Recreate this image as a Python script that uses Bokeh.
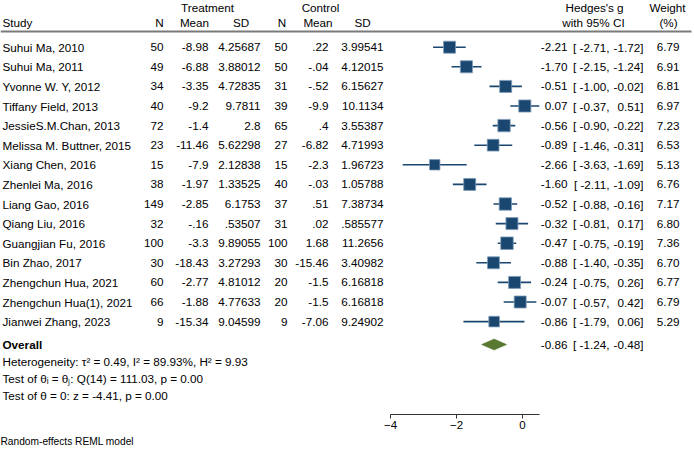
from bokeh.plotting import figure
from bokeh.models import Range1d, FixedTicker, Title, ColumnDataSource
from bokeh.core.properties import value
from bokeh.embed import file_html
from bokeh.resources import INLINE

# ---------------- data ----------------
studies = ["Suhui Ma, 2010", "Suhui Ma, 2011", "Yvonne W. Y, 2012", "Tiffany Field, 2013",
           "JessieS.M.Chan, 2013", "Melissa M. Buttner, 2015", "Xiang Chen, 2016",
           "Zhenlei Ma, 2016", "Liang Gao, 2016", "Qiang Liu, 2016", "Guangjian Fu, 2016",
           "Bin Zhao, 2017", "Zhengchun Hua, 2021", "Zhengchun Hua(1), 2021", "Jianwei Zhang, 2023"]
t_n = ["50", "49", "34", "40", "72", "23", "15", "38", "149", "32", "100", "30", "60", "66", "9"]
t_mean = ["-8.98", "-6.88", "-3.35", "-9.2", "-1.4", "-11.46", "-7.9", "-1.97", "-2.85", "-.16",
          "-3.3", "-18.43", "-2.77", "-1.88", "-15.34"]
t_sd = ["4.25687", "3.88012", "4.72835", "9.7811", "2.8", "5.62298", "2.12838", "1.33525",
        "6.1753", ".53507", "9.89055", "3.27293", "4.81012", "4.77633", "9.04599"]
c_n = ["50", "50", "31", "39", "65", "27", "15", "40", "37", "31", "100", "30", "20", "20", "9"]
c_mean = [".22", "-.04", "-.52", "-9.9", ".4", "-6.82", "-2.3", "-.03", ".51", ".02", "1.68",
          "-15.46", "-1.5", "-1.5", "-7.06"]
c_sd = ["3.99541", "4.12015", "6.15627", "10.1134", "3.55387", "4.71993", "1.96723", "1.05788",
        "7.38734", ".585577", "11.2656", "3.40982", "6.16818", "6.16818", "9.24902"]
g = [-2.21, -1.70, -0.51, 0.07, -0.56, -0.89, -2.66, -1.60, -0.52, -0.32, -0.47, -0.88, -0.24, -0.07, -0.86]
g_lo = [-2.71, -2.15, -1.00, -0.37, -0.90, -1.46, -3.63, -2.11, -0.88, -0.81, -0.75, -1.40, -0.75, -0.57, -1.79]
g_hi = [-1.72, -1.24, -0.02, 0.51, -0.22, -0.31, -1.69, -1.09, -0.16, 0.17, -0.19, -0.35, 0.26, 0.42, 0.06]
weight = [6.79, 6.91, 6.81, 6.97, 7.23, 6.53, 5.13, 6.76, 7.17, 6.80, 7.36, 6.70, 6.77, 6.79, 5.29]
overall_g, overall_lo, overall_hi = -0.86, -1.24, -0.48
stats_lines = ["Heterogeneity: \u03c4\u00b2 = 0.49, I\u00b2 = 89.93%, H\u00b2 = 9.93",
               "Test of \u03b8\u1d62 = \u03b8\u2c7c: Q(14) = 111.03, p = 0.00",
               "Test of \u03b8 = 0: z = -4.41, p = 0.00"]
x_ticks = [-4, -2, 0]
footer = "Random-effects REML model"

# ---------------- layout helpers ----------------
W, H = 694, 450
ZERO_PX, UNIT_PX = 522.0, 33.0      # pixel position of 0 and pixels per unit
ROW0_PX, ROW_PX = 46.7, 19.6       # first row centre and row pitch
FRAME_BOTTOM = 414


def X(px):
    return (px - ZERO_PX) / UNIT_PX


def Y(py):
    return (py - ROW0_PX) / ROW_PX


FONT = value("Liberation Sans")
FS = "11.7px"
TXT = "#000000"
NAVY = "#1a476f"
GREEN = "#58792f"

p = figure(width=W, height=H, output_backend="svg", toolbar_location=None,
           x_range=Range1d(X(0), X(W)), y_range=Range1d(Y(FRAME_BOTTOM), Y(0)),
           y_axis_location=None, min_border_left=0, min_border_right=0,
           min_border_top=0, min_border_bottom=H - FRAME_BOTTOM)
p.grid.visible = False
p.outline_line_color = None
p.background_fill_color = "white"
p.border_fill_color = "white"

rows = list(range(len(studies)))
src = ColumnDataSource(dict(
    y=rows, study=studies, tn=t_n, tm=t_mean, tsd=t_sd, cn=c_n, cm=c_mean, csd=c_sd,
    g=g, lo=g_lo, hi=g_hi, w=weight,
    size=[4.6 * (v ** 0.5) for v in weight],
    est_txt=[f"{v:.2f}" for v in g],
    lo_txt=[f"[ {v:.2f}," for v in g_lo],
    hi_txt=[f"{v:.2f}]" for v in g_hi],
    w_txt=[f"{v:.2f}" for v in weight],
))


def col_text(field, px, align):
    p.text(x=X(px), y="y", text=field, source=src, text_font=FONT, text_font_size=FS,
           text_color=TXT, text_align=align, text_baseline="middle")


def hdr(txt, px, py, align="center"):
    p.text(x=[X(px)], y=[Y(py)], text=[txt], text_font=FONT, text_font_size=FS,
           text_color=TXT, text_align=align, text_baseline="middle")


# headers
hdr("Treatment", 207, 6.5)
hdr("Control", 320, 6.5)
hdr("Hedges's g", 594, 6.5)
hdr("Weight", 667, 6.5)
hdr("Study", 2, 22, "left")
hdr("N", 159, 22)
hdr("Mean", 194, 22)
hdr("SD", 240.5, 22)
hdr("N", 281.5, 22)
hdr("Mean", 317.5, 22)
hdr("SD", 362, 22)
hdr("with 95% CI", 593, 22)
hdr("(%)", 668, 22)
p.segment(x0=[X(0)], y0=[Y(31)], x1=[X(691)], y1=[Y(31)], line_color="#7a7a7a", line_width=2)

# table columns
col_text("study", 2, "left")
col_text("tn", 163, "right")
col_text("tm", 208, "right")
col_text("tsd", 260, "right")
col_text("cn", 287, "right")
col_text("cm", 328, "right")
col_text("csd", 383, "right")
col_text("est_txt", 567, "right")
col_text("lo_txt", 609, "right")
col_text("hi_txt", 643, "right")
col_text("w_txt", 679, "right")

# CIs and squares
p.segment(x0="lo", y0="y", x1="hi", y1="y", source=src, line_color=NAVY, line_width=1.6)
p.scatter(x="g", y="y", size="size", marker="square", source=src,
          fill_color=NAVY, line_color="#7f9cba", line_width=0.8)

# overall
oy = Y(344)
dh = 5.5 / ROW_PX
p.patch(x=[overall_lo, overall_g, overall_hi, overall_g], y=[oy, oy - dh, oy, oy + dh],
        fill_color=GREEN, line_color=GREEN, line_width=0.5)
p.text(x=[X(2)], y=[oy], text=["Overall"], text_font=FONT, text_font_size=FS,
       text_font_style="bold", text_color=TXT, text_baseline="middle")
p.text(x=[X(567)], y=[oy], text=[f"{overall_g:.2f}"], text_font=FONT, text_font_size=FS,
       text_color=TXT, text_align="right", text_baseline="middle")
p.text(x=[X(609)], y=[oy], text=[f"[ {overall_lo:.2f},"], text_font=FONT, text_font_size=FS,
       text_color=TXT, text_align="right", text_baseline="middle")
p.text(x=[X(643)], y=[oy], text=[f"{overall_hi:.2f}]"], text_font=FONT, text_font_size=FS,
       text_color=TXT, text_align="right", text_baseline="middle")
p.text(x=[X(2)] * 3, y=[Y(361), Y(378), Y(395)], text=stats_lines, text_font=FONT,
       text_font_size=FS, text_color=TXT, text_baseline="middle")

# x axis
ax = p.xaxis[0]
ax.ticker = FixedTicker(ticks=x_ticks)
ax.bounds = (-4, 0.5)
ax.axis_line_color = "#333333"
ax.axis_line_width = 1
ax.major_tick_line_color = "#333333"
ax.major_tick_in = 0
ax.major_tick_out = 4
ax.minor_tick_line_color = None
ax.major_label_standoff = 2
ax.major_label_text_font = "Liberation Sans"
ax.major_label_text_font_size = "11.5px"
ax.major_label_text_color = TXT

p.add_layout(Title(text=footer, align="left", text_font="Liberation Sans",
                   text_font_size="10.2px", text_font_style="normal", text_color=TXT,
                   standoff=4, offset=0), "below")

open("out.html", "w").write(file_html(p, INLINE))
